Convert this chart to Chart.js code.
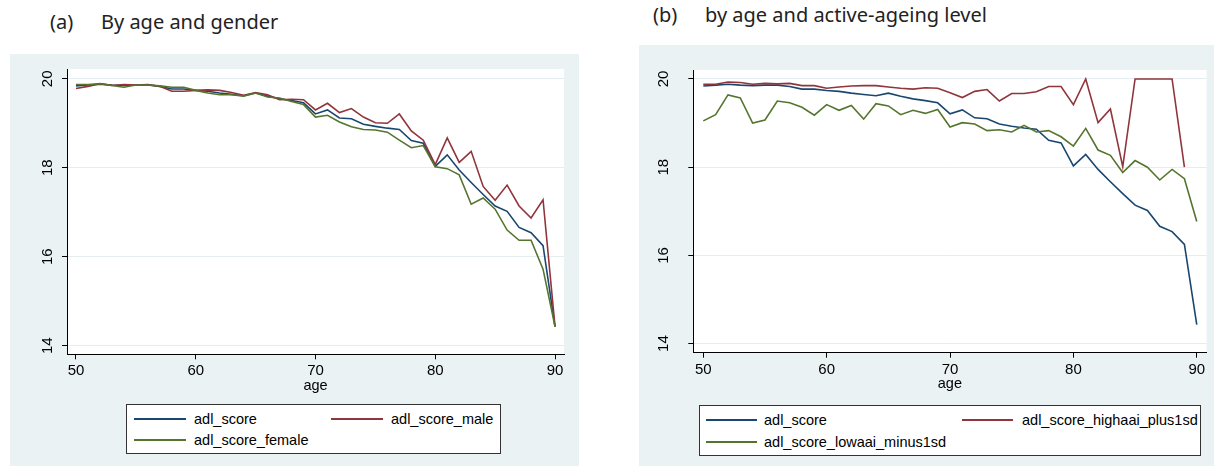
<!DOCTYPE html>
<html lang="en">
<head>
  <meta charset="UTF-8">
  <title>ADL score by age</title>
  <style>
    body {
      margin: 0;
      background: #fff;
      width: 1214px;
      height: 466px;
      position: relative;
      overflow: hidden;
      font-family: "Liberation Sans", Arial, sans-serif;
    }
    .panel { position: absolute; background: #EAF2F3; }
    .panel canvas { position: absolute; left: 0; top: 0; }
    .title {
      position: absolute;
      font-family: "Noto Sans", sans-serif;
      font-size: 20px;
      line-height: 24px;
      color: #222;
      white-space: nowrap;
    }
    .legend {
      position: absolute;
      background: #fff;
      border: 1px solid #333;
      box-sizing: border-box;
    }
    .legend .item {
      position: absolute;
      font-size: 14.5px;
      line-height: 18px;
      color: #000;
      white-space: nowrap;
      transform: translateY(-50%);
    }
    .legend .swatch { position: absolute; height: 2px; }
  </style>
</head>
<body>
  <div class="title" style="left:50px; top:10px;">(a)</div>
  <div class="title" style="left:101px; top:10px;">By age and gender</div>
  <div class="title" style="left:653px; top:3px;">(b)</div>
  <div class="title" style="left:705px; top:3px;">by age and active-ageing level</div>

  <div class="panel" style="left:10px; top:54px; width:569px; height:412px;">
    <canvas id="chartA" width="569" height="412"></canvas>
  </div>
  <div class="panel" style="left:639px; top:45px; width:575px; height:421px;">
    <canvas id="chartB" width="575" height="421"></canvas>
  </div>

  <div class="legend" id="legendA" style="left:126px; top:404px; width:375px; height:50px;"></div>
  <div class="legend" id="legendB" style="left:699px; top:405px; width:502px; height:51px;"></div>

  <script src="https://cdn.jsdelivr.net/npm/chart.js"></script>
  <script>
    // ages on the x axis
    const ages = [50, 51, 52, 53, 54, 55, 56, 57, 58, 59,
                  60, 61, 62, 63, 64, 65, 66, 67, 68, 69,
                  70, 71, 72, 73, 74, 75, 76, 77, 78, 79,
                  80, 81, 82, 83, 84, 85, 86, 87, 88, 89, 90];
    const xTicks = [50, 60, 70, 80, 90];
    const yTicks = [14, 16, 18, 20];

    // overall score (same series in both panels)
    const adlScore = [19.84, 19.86, 19.88, 19.86, 19.85, 19.86, 19.86, 19.83, 19.77, 19.77,
                      19.74, 19.72, 19.68, 19.65, 19.62, 19.68, 19.61, 19.55, 19.51, 19.46,
                      19.21, 19.30, 19.12, 19.10, 18.98, 18.93, 18.89, 18.86, 18.61, 18.55,
                      18.03, 18.29, 17.95, 17.67, 17.40, 17.14, 17.02, 16.66, 16.54, 16.25, 14.43];
    // panel (a)
    const adlMale = [19.78, 19.83, 19.89, 19.85, 19.87, 19.86, 19.87, 19.83, 19.72, 19.72,
                     19.74, 19.75, 19.74, 19.69, 19.63, 19.69, 19.64, 19.53, 19.54, 19.53,
                     19.30, 19.45, 19.24, 19.33, 19.14, 19.01, 19.00, 19.21, 18.83, 18.62,
                     18.07, 18.67, 18.12, 18.37, 17.58, 17.27, 17.61, 17.14, 16.87, 17.28, 14.43];
    const adlFemale = [19.87, 19.87, 19.89, 19.85, 19.81, 19.86, 19.86, 19.84, 19.81, 19.81,
                       19.74, 19.68, 19.64, 19.64, 19.61, 19.68, 19.59, 19.57, 19.49, 19.42,
                       19.14, 19.18, 19.03, 18.92, 18.86, 18.85, 18.80, 18.62, 18.45, 18.50,
                       18.02, 17.98, 17.84, 17.18, 17.32, 17.07, 16.60, 16.37, 16.37, 15.72, 14.43];
    // panel (b)
    const adlHighAai = [19.88, 19.88, 19.93, 19.92, 19.88, 19.90, 19.89, 19.90, 19.85, 19.85,
                        19.79, 19.82, 19.84, 19.85, 19.85, 19.82, 19.79, 19.77, 19.80, 19.79,
                        19.69, 19.58, 19.72, 19.76, 19.50, 19.67, 19.67, 19.71, 19.83, 19.83,
                        19.42, 20.00, 19.01, 19.32, 18.01, 20.00, 20.00, 20.00, 20.00, 18.00, null];
    const adlLowAai = [19.05, 19.19, 19.64, 19.57, 19.00, 19.07, 19.50, 19.46, 19.36, 19.18,
                       19.42, 19.29, 19.40, 19.09, 19.44, 19.39, 19.19, 19.29, 19.22, 19.31,
                       18.91, 19.01, 18.98, 18.83, 18.85, 18.80, 18.95, 18.80, 18.83, 18.69,
                       18.48, 18.88, 18.39, 18.27, 17.88, 18.15, 18.00, 17.71, 17.95, 17.74, 16.77];

    const NAVY = '#1A476F';
    const MAROON = '#90353B';
    const GREEN = '#55752F';

    function series(label, values, color, order) {
      return {
        label: label,
        data: values.map((v, i) => ({ x: ages[i], y: v })),
        borderColor: color,
        backgroundColor: color,
        borderWidth: 1.6,
        pointRadius: 0,
        tension: 0,
        spanGaps: false,
        order: order
      };
    }

    // white plot region inside the grey panel
    const plotBg = {
      id: 'plotBg',
      beforeDraw(chart) {
        const { ctx, chartArea: a } = chart;
        ctx.save();
        ctx.fillStyle = '#fff';
        ctx.fillRect(a.left, a.top, a.right - a.left, a.bottom - a.top);
        ctx.restore();
      }
    };

    const tickFont = { family: 'Liberation Sans', size: 15 };

    function makeChart(id, datasets, box) {
      return new Chart(document.getElementById(id), {
        type: 'line',
        data: { datasets: datasets },
        plugins: [plotBg],
        options: {
          responsive: false,
          animation: false,
          devicePixelRatio: 1,
          layout: { padding: { left: 0, top: box.top, right: box.right, bottom: box.bottom } },
          plugins: { legend: { display: false }, tooltip: { enabled: false } },
          scales: {
            x: {
              type: 'linear',
              min: box.xMin,
              max: box.xMax,
              afterBuildTicks: s => { s.ticks = xTicks.map(v => ({ value: v })); },
              afterFit: s => { s.height = 40; },
              grid: { drawOnChartArea: false, tickLength: 5, tickColor: '#000' },
              border: { color: '#000', width: 1 },
              ticks: { padding: 3, color: '#000', font: tickFont, callback: v => String(v) },
              title: { display: true, text: 'age', color: '#000', padding: 0,
                       font: { family: 'Liberation Sans', size: 14.5 } }
            },
            y: {
              type: 'linear',
              min: box.yMin,
              max: box.yMax,
              afterBuildTicks: s => { s.ticks = yTicks.map(v => ({ value: v })); },
              afterFit: s => { s.width = box.left; },
              grid: { color: '#E4EDEF', tickLength: 5, tickColor: '#000' },
              border: { color: '#000', width: 1 },
              ticks: { padding: box.yPad, minRotation: 90, maxRotation: 90, crossAlign: 'center',
                       color: '#000', font: tickFont, callback: v => String(v) }
            }
          }
        }
      });
    }

    const datasetsA = [
      series('adl_score', adlScore, NAVY, 2),
      series('adl_score_male', adlMale, MAROON, 1),
      series('adl_score_female', adlFemale, GREEN, 0)
    ];
    const datasetsB = [
      series('adl_score', adlScore, NAVY, 2),
      series('adl_score_highaai_plus1sd', adlHighAai, MAROON, 1),
      series('adl_score_lowaai_minus1sd', adlLowAai, GREEN, 0)
    ];

    makeChart('chartA', datasetsA, { left: 57, top: 14.5, right: 15, bottom: 71.7, yPad: 6,
      xMin: 49.25, xMax: 90.75, yMin: 13.807, yMax: 20.22 });
    makeChart('chartB', datasetsB, { left: 54.3, top: 15, right: 7.5, bottom: 73.3, yPad: 16,
      xMin: 49.19, xMax: 90.79, yMin: 13.794, yMax: 20.204 });

    // two-column boxed legend, built from the dataset list
    function buildLegend(datasets, elId, cols, rows, swatchLen) {
      const box = document.getElementById(elId);
      datasets.forEach((ds, i) => {
        const col = i % 2;
        const row = Math.floor(i / 2);
        const sw = document.createElement('div');
        sw.className = 'swatch';
        sw.style.left = cols[col].line + 'px';
        sw.style.top = (rows[row] - 1) + 'px';
        sw.style.width = swatchLen + 'px';
        sw.style.backgroundColor = ds.borderColor;
        box.appendChild(sw);
        const item = document.createElement('div');
        item.className = 'item';
        item.style.left = cols[col].text + 'px';
        item.style.top = rows[row] + 'px';
        item.textContent = ds.label;
        box.appendChild(item);
      });
    }

    buildLegend(datasetsA, 'legendA', [{ line: 7, text: 67 }, { line: 204, text: 264 }], [14, 34.5], 52);
    buildLegend(datasetsB, 'legendB', [{ line: 6, text: 64 }, { line: 262, text: 322 }], [14, 36], 51);
  </script>
</body>
</html>
